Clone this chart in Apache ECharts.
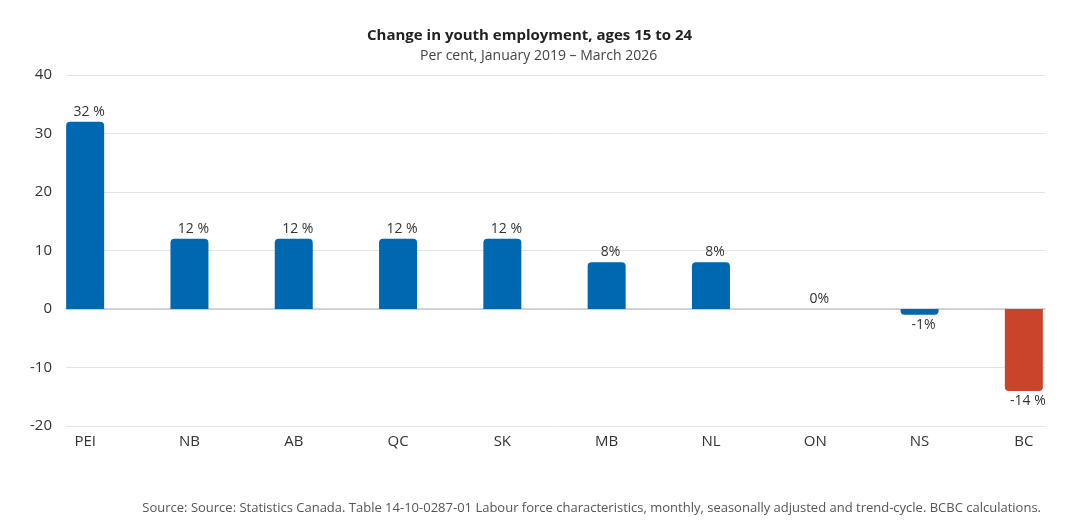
<!DOCTYPE html>
<html>
<head>
<meta charset="utf-8">
<script src="https://cdn.jsdelivr.net/npm/echarts@6/dist/echarts.min.js"></script>
<style>
	html, body { margin: 0; padding: 0; background: #fff; }
	#chart { width: 1080px; height: 528px; }
</style>
</head>
<body>
<div id="chart"></div>
<script>
	var provinces = ['PEI', 'NB', 'AB', 'QC', 'SK', 'MB', 'NL', 'ON', 'NS', 'BC'];
	var changes = [32, 12, 12, 12, 12, 8, 8, 0, -1, -14];
	var changeLabels = ['32 %', '12 %', '12 %', '12 %', '12 %', '8%', '8%', '0%', '-1%', '-14 %'];
	var barColors = ['#0067b1', '#0067b1', '#0067b1', '#0067b1', '#0067b1', '#0067b1', '#0067b1', '#0067b1', '#0067b1', '#c9442b'];

	var font = '"Open Sans", "Noto Sans", sans-serif';

	var myChart = echarts.init(document.getElementById('chart'));
	myChart.setOption({
		textStyle: { fontFamily: font },
		title: [
			{
				text: 'Change in youth employment, ages 15 to 24',
				left: 362,
				top: 23,
				textStyle: { fontSize: 15, fontWeight: 'bold', color: '#222', fontFamily: font }
			},
			{
				text: 'Per cent, January 2019 \u2013 March 2026',
				left: 415,
				top: 44,
				textStyle: { fontSize: 14, fontWeight: 'normal', color: '#444', fontFamily: font }
			},
			{
				text: 'Source: Source: Statistics Canada. Table 14-10-0287-01 Labour force characteristics, monthly, seasonally adjusted and trend-cycle. BCBC calculations.',
				right: 34,
				top: 497,
				textStyle: { fontSize: 13, fontWeight: 'normal', color: '#555', fontFamily: font }
			}
		],
		grid: [
			// gridlines and y labels
			{ left: 66, right: 35, top: 75, bottom: 102 },
			// bars
			{ left: 33, right: 4, top: 75, bottom: 102 }
		],
		xAxis: [
			{
				type: 'category',
				gridIndex: 0,
				data: provinces,
				axisLine: { show: true, lineStyle: { color: '#c8c8c8', width: 1.5 } },
				axisTick: { show: false },
				axisLabel: { show: false }
			},
			{
				type: 'category',
				gridIndex: 1,
				data: provinces,
				position: 'bottom',
				axisLine: { show: false, onZero: false },
				axisTick: { show: false },
				axisLabel: { fontSize: 15, color: '#333', margin: 8 }
			}
		],
		yAxis: [
			{
				type: 'value',
				gridIndex: 0,
				min: -20,
				max: 40,
				interval: 10,
				axisLine: { show: false },
				axisTick: { show: false },
				axisLabel: { fontSize: 15, color: '#333', margin: 14 },
				splitLine: { lineStyle: { color: '#e3e3e3' } }
			},
			{
				type: 'value',
				gridIndex: 1,
				min: -20,
				max: 40,
				interval: 10,
				show: false,
				splitLine: { show: false }
			}
		],
		series: [
			{
				type: 'bar',
				xAxisIndex: 1,
				yAxisIndex: 1,
				barWidth: 38,
				data: changes.map(function (v, i) {
					return {
						value: v,
						itemStyle: {
							color: barColors[i],
							borderRadius: v >= 0 ? [4, 4, 0, 0] : [0, 0, 4, 4]
						},
						label: {
							show: true,
							position: v >= 0 ? 'top' : 'bottom',
							distance: 3,
							offset: [4, 0],
							fontSize: 14,
							color: '#333',
							formatter: changeLabels[i]
						}
					};
				})
			}
		]
	});
</script>
</body>
</html>
